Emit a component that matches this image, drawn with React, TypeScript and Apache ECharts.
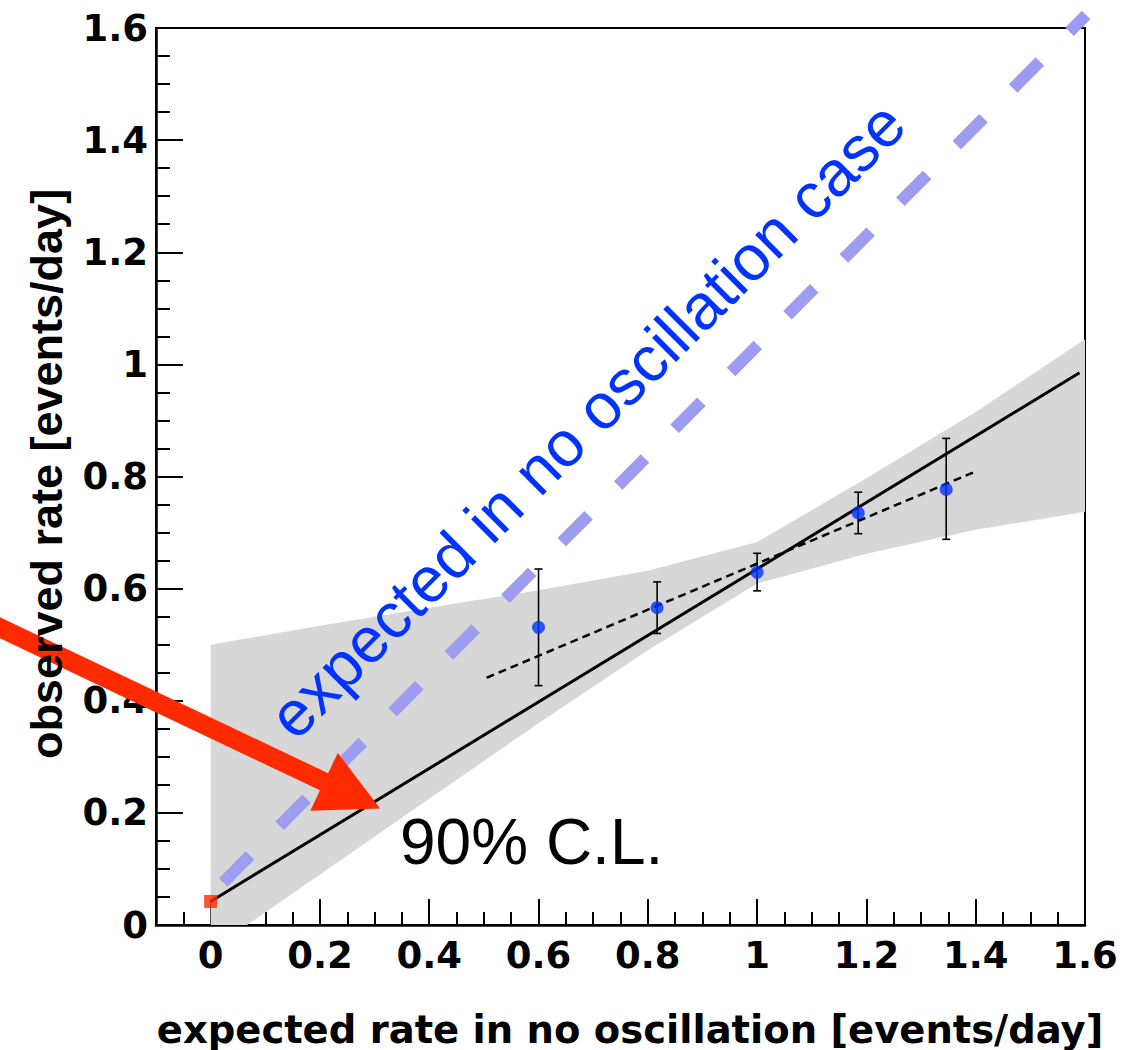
import { useEffect, useRef } from "react";
import * as echarts from "echarts";

// Axis ranges and ticks
const X_MIN = -0.1;
const X_MAX = 1.6;
const Y_MIN = 0;
const Y_MAX = 1.6;
const xMajorTicks = [0, 0.2, 0.4, 0.6, 0.8, 1, 1.2, 1.4, 1.6];
const xMinorTicks = [
  -0.05, 0.05, 0.1, 0.15, 0.25, 0.3, 0.35, 0.45, 0.5, 0.55, 0.65, 0.7, 0.75,
  0.85, 0.9, 0.95, 1.05, 1.1, 1.15, 1.25, 1.3, 1.35, 1.45, 1.5, 1.55,
];
const yMajorTicks = [0, 0.2, 0.4, 0.6, 0.8, 1, 1.2, 1.4, 1.6];
const yMinorTicks = [
  0.05, 0.1, 0.15, 0.25, 0.3, 0.35, 0.45, 0.5, 0.55, 0.65, 0.7, 0.75, 0.85,
  0.9, 0.95, 1.05, 1.1, 1.15, 1.25, 1.3, 1.35, 1.45, 1.5, 1.55,
];

// Measured rates with their error bars
const expectedRate = [0.6, 0.817, 1.0, 1.185, 1.346];
const observedRate = [0.531, 0.566, 0.629, 0.735, 0.777];
const observedLow = [0.427, 0.52, 0.596, 0.698, 0.688];
const observedHigh = [0.635, 0.612, 0.663, 0.772, 0.868];

// 90% C.L. band of the linear fit
const bandX = [0, 0.2, 0.4, 0.6, 0.8, 1.0, 1.2, 1.4, 1.6];
const bandUpper = [0.5, 0.534, 0.566, 0.597, 0.632, 0.683, 0.797, 0.915, 1.045];
const bandLower = [-0.045, 0.09, 0.225, 0.36, 0.49, 0.609, 0.662, 0.705, 0.737];

// Best fit line, starting at the background rate
const fitX = [0, 1.59];
const fitY = [0.042, 0.985];
// Straight-line fit through the data points only
const dataFitX = [0.505, 1.395];
const dataFitY = [0.441, 0.807];
// Expectation without oscillation
const noOscX = [0.023, 1.602];
const noOscY = [0.076, 1.623];
// Background rate at zero expected rate
const backgroundPoint = [0, 0.042];
// Arrow pointing at the band
const arrowTail = [-0.45, 0.56];
const arrowTip = [0.31, 0.208];

const BOLD_FONT = "'DejaVu Sans', sans-serif";
const PLAIN_FONT = "'Liberation Sans', Arial, sans-serif";
const BLUE = "#0033ff";
const RED = "#ff2a00";

const pairs = (xs: number[], ys: number[]) => xs.map((x, i) => [x, ys[i]]);

export default function App() {
  const ref = useRef<HTMLDivElement | null>(null);

  useEffect(() => {
    if (!ref.current) return;
    const chart = echarts.init(ref.current, undefined, { renderer: "svg" });

    const tickLabel = {
      fontFamily: BOLD_FONT,
      fontWeight: "bold" as const,
      fontSize: 37,
      color: "#000",
    };

    const option: any = {
      animation: false,
      backgroundColor: "#fff",
      grid: {
        left: 156,
        right: 57,
        top: 28,
        bottom: 125,
        show: true,
        borderColor: "#000",
        borderWidth: 2,
        backgroundColor: "transparent",
      },
      xAxis: [
        {
          type: "value",
          min: X_MIN,
          max: X_MAX,
          position: "bottom",
          axisLine: { onZero: false, lineStyle: { color: "#000", width: 2.5 } },
          axisTick: {
            customValues: xMajorTicks,
            inside: true,
            length: 26,
            lineStyle: { color: "#000", width: 2 },
          },
          axisLabel: { customValues: xMajorTicks, margin: 12, ...tickLabel },
          splitLine: { show: false },
        },
        {
          type: "value",
          min: X_MIN,
          max: X_MAX,
          position: "bottom",
          axisLine: { show: false, onZero: false },
          axisTick: {
            customValues: xMinorTicks,
            inside: true,
            length: 13,
            lineStyle: { color: "#000", width: 2 },
          },
          axisLabel: { show: false },
          splitLine: { show: false },
        },
      ],
      yAxis: [
        {
          type: "value",
          min: Y_MIN,
          max: Y_MAX,
          position: "left",
          axisLine: { onZero: false, lineStyle: { color: "#000", width: 2.5 } },
          axisTick: {
            customValues: yMajorTicks,
            inside: true,
            length: 27,
            lineStyle: { color: "#000", width: 2 },
          },
          axisLabel: {
            customValues: yMajorTicks,
            margin: 8,
            padding: [10, 0, 0, 0],
            ...tickLabel,
          },
          splitLine: { show: false },
        },
        {
          type: "value",
          min: Y_MIN,
          max: Y_MAX,
          position: "left",
          axisLine: { show: false, onZero: false },
          axisTick: {
            customValues: yMinorTicks,
            inside: true,
            length: 14,
            lineStyle: { color: "#000", width: 2 },
          },
          axisLabel: { show: false },
          splitLine: { show: false },
        },
      ],
      series: [
        {
          name: "90% C.L. band",
          type: "custom",
          clip: true,
          z: 1,
          data: [0],
          renderItem: (_params: any, api: any) => {
            const pts: number[][] = [];
            for (let i = 0; i < bandX.length; i++) pts.push(api.coord([bandX[i], bandUpper[i]]));
            for (let i = bandX.length - 1; i >= 0; i--) pts.push(api.coord([bandX[i], bandLower[i]]));
            return { type: "polygon", shape: { points: pts }, style: { fill: "#d7d7d7" } };
          },
        },
        {
          name: "expected in no oscillation case",
          type: "line",
          clip: false,
          z: 2,
          symbol: "none",
          data: pairs(noOscX, noOscY),
          lineStyle: { color: "#9c9cf0", width: 12, type: [38, 42], cap: "butt" },
        },
        {
          name: "fit",
          type: "line",
          z: 3,
          symbol: "none",
          data: pairs(fitX, fitY),
          lineStyle: { color: "#000", width: 3 },
        },
        {
          name: "data fit",
          type: "line",
          z: 3,
          symbol: "none",
          data: pairs(dataFitX, dataFitY),
          lineStyle: { color: "#000", width: 2.5, type: [8, 5] },
        },
        {
          name: "error bars",
          type: "custom",
          z: 4,
          data: expectedRate.map((x, i) => [x, observedLow[i], observedHigh[i]]),
          encode: { x: 0, y: [1, 2] },
          renderItem: (_params: any, api: any) => {
            const x = api.value(0);
            const top = api.coord([x, api.value(2)]);
            const bot = api.coord([x, api.value(1)]);
            const cap = 4;
            const st = { stroke: "#000", lineWidth: 1.6 };
            return {
              type: "group",
              children: [
                { type: "line", shape: { x1: top[0], y1: top[1], x2: bot[0], y2: bot[1] }, style: st },
                { type: "line", shape: { x1: top[0] - cap, y1: top[1], x2: top[0] + cap, y2: top[1] }, style: st },
                { type: "line", shape: { x1: bot[0] - cap, y1: bot[1], x2: bot[0] + cap, y2: bot[1] }, style: st },
              ],
            };
          },
        },
        {
          name: "observed",
          type: "scatter",
          z: 5,
          symbol: "circle",
          symbolSize: 13,
          data: pairs(expectedRate, observedRate),
          itemStyle: { color: BLUE },
        },
        {
          name: "background",
          type: "scatter",
          z: 5,
          symbol: "rect",
          symbolSize: 13,
          data: [backgroundPoint],
          itemStyle: { color: RED },
        },
      ],
    };

    chart.setOption(option);

    // Arrow drawn in pixel space from its data-space end points
    const tail = chart.convertToPixel({ xAxisIndex: 0, yAxisIndex: 0 }, arrowTail) as number[];
    const tip = chart.convertToPixel({ xAxisIndex: 0, yAxisIndex: 0 }, arrowTip) as number[];
    const dx = tip[0] - tail[0];
    const dy = tip[1] - tail[1];
    const len = Math.hypot(dx, dy);
    const ux = dx / len;
    const uy = dy / len;
    const nx = -uy;
    const ny = ux;
    const shaftHalf = 9.5;
    const headLen = 62;
    const headHalf = 32;
    const bx = tip[0] - ux * headLen;
    const by = tip[1] - uy * headLen;
    const arrowPts = [
      [tail[0] + nx * shaftHalf, tail[1] + ny * shaftHalf],
      [bx + nx * shaftHalf, by + ny * shaftHalf],
      [bx + nx * headHalf, by + ny * headHalf],
      [tip[0], tip[1]],
      [bx - nx * headHalf, by - ny * headHalf],
      [bx - nx * shaftHalf, by - ny * shaftHalf],
      [tail[0] - nx * shaftHalf, tail[1] - ny * shaftHalf],
    ];

    chart.setOption({
      graphic: [
        {
          type: "polygon",
          z: 100,
          shape: { points: arrowPts },
          style: { fill: RED },
        },
        {
          type: "text",
          z: 101,
          x: 400,
          y: 842,
          style: {
            text: "90% C.L.",
            fontFamily: PLAIN_FONT,
            fontSize: 64,
            fill: "#000",
            align: "left",
            verticalAlign: "middle",
          },
        },
        {
          type: "text",
          z: 101,
          x: 587,
          y: 420,
          rotation: Math.PI / 4,
          style: {
            text: "expected in no oscillation case",
            fontFamily: PLAIN_FONT,
            fontSize: 64,
            fill: BLUE,
            align: "center",
            verticalAlign: "middle",
          },
        },
        {
          type: "text",
          z: 101,
          x: 630,
          y: 1029,
          style: {
            text: "expected rate in no oscillation [events/day]",
            fontFamily: BOLD_FONT,
            fontWeight: "bold",
            fontSize: 38.5,
            fill: "#000",
            align: "center",
            verticalAlign: "middle",
          },
        },
        {
          type: "text",
          z: 101,
          x: 46,
          y: 474,
          rotation: Math.PI / 2,
          style: {
            text: "observed rate [events/day]",
            fontFamily: "'Liberation Sans', Arial, sans-serif",
            fontWeight: "bold",
            fontSize: 45,
            fill: "#000",
            align: "center",
            verticalAlign: "middle",
          },
        },
      ],
    });

    return () => {
      chart.dispose();
    };
  }, []);

  return (
    <div
      ref={ref}
      style={{ position: "fixed", left: 0, top: 0, width: 1142, height: 1050, background: "#fff" }}
    />
  );
}
